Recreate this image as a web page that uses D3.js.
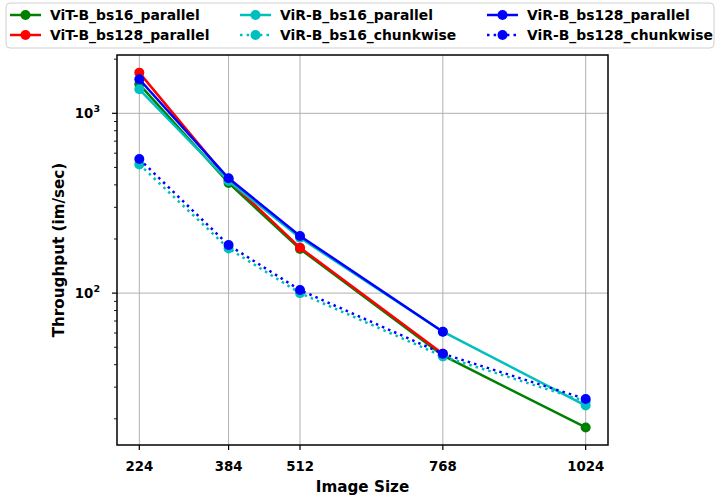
<!DOCTYPE html>
<html>
<head>
<meta charset="utf-8">
<script src="https://cdn.jsdelivr.net/npm/d3@7"></script>
<style>
  body { margin: 0; background: #fff; }
  svg { display: block; font-family: "DejaVu Sans", sans-serif; font-weight: bold; }
</style>
</head>
<body>
<svg width="715" height="496"></svg>
<script>
// image sizes on x axis
var sizes = [224, 384, 512, 768, 1024];

// throughput (im/sec)
var vitB_bs16_parallel   = [1450, 410, 176, 45, 17.9];
var vitB_bs128_parallel  = [1683, 425, 179, 46];
var virB_bs16_parallel   = [1360, 420, 203, 61, 23.7];
var virB_bs16_chunkwise  = [520, 177, 100, 44.5, 25];
var virB_bs128_parallel  = [1546, 435, 208, 61];
var virB_bs128_chunkwise = [557, 185, 104, 46, 25.8];

var seriesNames = ["ViT-B_bs16_parallel", "ViT-B_bs128_parallel", "ViR-B_bs16_parallel",
                   "ViR-B_bs16_chunkwise", "ViR-B_bs128_parallel", "ViR-B_bs128_chunkwise"];
var seriesValues = [vitB_bs16_parallel, vitB_bs128_parallel, virB_bs16_parallel,
                    virB_bs16_chunkwise, virB_bs128_parallel, virB_bs128_chunkwise];
var seriesColors = ["#008000", "#ff0000", "#00bfbf", "#00bfbf", "#0000ff", "#0000ff"];
var seriesDotted = [false, false, false, true, false, true];

// plot box (window.top is reserved, so use own names)
var pLeft = 117, pRight = 608, pTop = 55, pBottom = 445;
var lw = 2.5, r = 5;

var svg = d3.select("svg");

var x = d3.scaleLinear().domain([184, 1064]).range([pLeft, pRight]);
var y = d3.scaleLog().domain([14.3, 2110]).range([pBottom, pTop]);

// grid
var majors = [100, 1000];
var minors = [];
[10, 100, 1000].forEach(function(d){
    for (var k = 2; k <= 9; k++) {
        var v = d * k;
        if (v >= 14.3 && v <= 2110) minors.push(v);
    }
});

svg.append("g").selectAll("line").data(sizes).enter().append("line")
    .attr("x1", function(d){ return x(d); }).attr("x2", function(d){ return x(d); })
    .attr("y1", pTop).attr("y2", pBottom)
    .attr("stroke", "#b0b0b0").attr("stroke-width", 1);
svg.append("g").selectAll("line").data(majors).enter().append("line")
    .attr("x1", pLeft).attr("x2", pRight)
    .attr("y1", function(d){ return y(d); }).attr("y2", function(d){ return y(d); })
    .attr("stroke", "#b0b0b0").attr("stroke-width", 1);

// series lines
var line = d3.line()
    .x(function(d, i){ return x(sizes[i]); })
    .y(function(d){ return y(d); });

var plot = svg.append("g");
seriesValues.forEach(function(vals, s){
    var g = plot.append("g");
    g.append("path")
        .attr("d", line(vals))
        .attr("fill", "none")
        .attr("stroke", seriesColors[s])
        .attr("stroke-width", lw)
        .attr("stroke-dasharray", seriesDotted[s] ? (lw + "," + (1.65 * lw)) : null);
    g.selectAll("circle").data(vals).enter().append("circle")
        .attr("cx", function(d, i){ return x(sizes[i]); })
        .attr("cy", function(d){ return y(d); })
        .attr("r", r)
        .attr("fill", seriesColors[s]);
});

// frame
svg.append("rect")
    .attr("x", pLeft).attr("y", pTop)
    .attr("width", pRight - pLeft).attr("height", pBottom - pTop)
    .attr("fill", "none").attr("stroke", "#000").attr("stroke-width", 1.5);

// x ticks
var xt = svg.append("g");
xt.selectAll("line").data(sizes).enter().append("line")
    .attr("x1", function(d){ return x(d); }).attr("x2", function(d){ return x(d); })
    .attr("y1", pBottom).attr("y2", pBottom + 5)
    .attr("stroke", "#000").attr("stroke-width", 1.2);
xt.selectAll("text").data(sizes).enter().append("text")
    .attr("x", function(d){ return x(d); })
    .attr("y", 471)
    .attr("text-anchor", "middle")
    .attr("font-size", 13.3)
    .text(function(d){ return d; });

// y ticks
var yt = svg.append("g");
yt.selectAll("line.major").data(majors).enter().append("line")
    .attr("x1", pLeft - 5).attr("x2", pLeft)
    .attr("y1", function(d){ return y(d); }).attr("y2", function(d){ return y(d); })
    .attr("stroke", "#000").attr("stroke-width", 1.2);
yt.selectAll("line.minor").data(minors).enter().append("line")
    .attr("x1", pLeft - 3).attr("x2", pLeft)
    .attr("y1", function(d){ return y(d); }).attr("y2", function(d){ return y(d); })
    .attr("stroke", "#000").attr("stroke-width", 0.9);
var yl = yt.selectAll("text").data(majors).enter().append("text")
    .attr("x", 100)
    .attr("y", function(d){ return y(d) + 5; })
    .attr("text-anchor", "end")
    .attr("font-size", 13.3);
yl.append("tspan").text("10");
yl.append("tspan").attr("dy", -6).attr("font-size", 9.5)
    .text(function(d){ return String(Math.round(Math.log10(d))); });

// axis labels
svg.append("text")
    .attr("x", (pLeft + pRight) / 2).attr("y", 492)
    .attr("text-anchor", "middle").attr("font-size", 15.2)
    .text("Image Size");
svg.append("text")
    .attr("transform", "translate(64," + ((pTop + pBottom) / 2) + ") rotate(-90)")
    .attr("text-anchor", "middle").attr("font-size", 15.2)
    .text("Throughput (im/sec)");

// legend
var lg = svg.append("g");
lg.append("rect")
    .attr("x", 6).attr("y", 3).attr("width", 708).attr("height", 45).attr("rx", 4)
    .attr("fill", "#fff").attr("fill-opacity", 0.8)
    .attr("stroke", "#d0d0d0").attr("stroke-width", 1);
var colX = [10, 240, 487];
var rowY = [15, 35];
seriesNames.forEach(function(name, s){
    var cx = colX[Math.floor(s / 2)], cy = rowY[s % 2];
    lg.append("line")
        .attr("x1", cx).attr("x2", cx + 31)
        .attr("y1", cy).attr("y2", cy)
        .attr("stroke", seriesColors[s]).attr("stroke-width", lw)
        .attr("stroke-dasharray", seriesDotted[s] ? (lw + "," + (1.65 * lw)) : null);
    lg.append("circle")
        .attr("cx", cx + 15.5).attr("cy", cy).attr("r", r)
        .attr("fill", seriesColors[s]);
    lg.append("text")
        .attr("x", cx + 40).attr("y", cy + 5)
        .attr("font-size", 13.9)
        .text(name);
});
</script>
</body>
</html>
